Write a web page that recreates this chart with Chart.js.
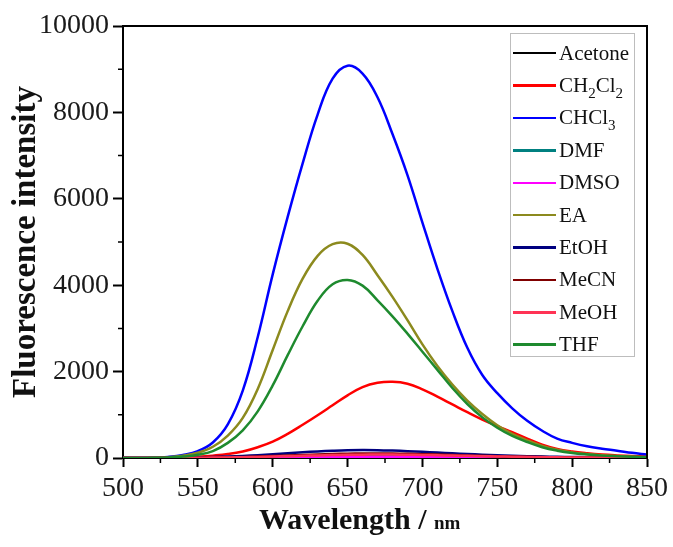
<!DOCTYPE html>
<html>
<head>
<meta charset="utf-8">
<title>Fluorescence spectra in solvents</title>
<script src="https://cdn.jsdelivr.net/npm/chart.js@4/dist/chart.umd.min.js"></script>
<style>
  html, body { margin: 0; padding: 0; background: #fff; }
  #wrap { position: relative; width: 673px; height: 547px; }
  #legend {
    position: absolute; left: 510px; top: 33px; width: 125px; height: 324px;
    box-sizing: border-box; border: 1px solid #bdbdbd; padding-top: 3px;
    font-family: "Liberation Serif", serif; font-size: 21px; color: #111;
  }
  .item { display: flex; align-items: center; height: 32.4px; white-space: nowrap; }
  .swatch { width: 43px; height: 2.5px; margin-left: 2px; margin-right: 3px; flex: none; }
  .item sub { font-size: 15px; vertical-align: -6px; line-height: 0; }
  #xtitle {
    position: absolute; left: 259px; top: 502px;
    font-family: "Liberation Serif", serif; font-weight: bold; font-size: 30px; color: #111;
    white-space: nowrap;
  }
  #xtitle small { font-size: 19px; }
</style>
</head>
<body>
<div id="wrap">
  <canvas id="spectra" width="673" height="547"></canvas>
  <div id="legend"></div>
  <div id="xtitle">Wavelength / <small>nm</small></div>
</div>
<script>
// emission wavelength, nm
const wavelengths = [500, 510, 520, 530, 540, 550, 560, 570, 580, 590, 600, 610, 620, 630, 640, 650, 660, 670,
    680, 690, 700, 710, 720, 730, 740, 750, 760, 770, 780, 790, 800, 810, 820, 830, 840, 850]

const solvents = ["Acetone", "CH2Cl2", "CHCl3", "DMF", "DMSO", "EA", "EtOH", "MeCN", "MeOH", "THF"]
const solventColors = ["#000000", "#ff0000", "#0000ff", "#008080", "#ff00ff", "#8c8a1e", "#000080", "#800000", "#ff3355", "#1e8a2e"]

const acetone = [0, 0, 0, 2, 4, 6, 9, 13, 18, 24, 30, 36, 41, 45, 48, 50, 50, 48, 45, 41, 37, 32, 27, 23, 19, 15, 12, 10, 8, 6, 5, 4, 3, 2, 2, 1]
const ch2cl2 = [0, 0, 0, 5, 15, 30, 55, 90, 150, 250, 380, 560, 770, 990, 1220, 1450, 1640, 1740, 1765, 1720, 1590, 1420,
    1240, 1060, 890, 740, 600, 450, 310, 210, 150, 110, 80, 60, 45, 35]
const chcl3 = [0, 0, 5, 25, 70, 160, 360, 780, 1560, 2800, 4250, 5580, 6820, 7950, 8780, 9080, 8900, 8350, 7500, 6550,
    5450, 4380, 3400, 2550, 1920, 1500, 1150, 860, 630, 450, 350, 270, 215, 170, 120, 80]
const dmf = [0, 0, 0, 1, 2, 3, 5, 7, 10, 13, 17, 21, 25, 29, 33, 36, 38, 40, 39, 37, 34, 31, 27, 23, 20, 17, 14, 11, 9, 7, 6, 5, 4, 3, 3, 2]
const dmso = [0, 0, 0, 1, 1, 2, 3, 5, 7, 9, 12, 15, 18, 21, 24, 26, 28, 29, 29, 28, 26, 23, 20, 17, 15, 12, 10, 8, 7, 5, 4, 4, 3, 2, 2, 2]
const ea = [0, 0, 5, 20, 55, 120, 260, 520, 930, 1600, 2500, 3400, 4150, 4680, 4950, 4960, 4700, 4230, 3730, 3190, 2630,
    2130, 1700, 1330, 1020, 760, 560, 410, 280, 190, 130, 90, 65, 45, 30, 20]
const etoh = [0, 0, 2, 4, 8, 14, 22, 33, 48, 66, 88, 110, 132, 152, 168, 180, 185, 182, 172, 158, 142, 125, 108, 92, 77,
    63, 52, 42, 34, 28, 23, 19, 16, 13, 11, 9]
const mecn = [0, 0, 1, 3, 5, 8, 12, 18, 26, 35, 46, 58, 70, 82, 92, 100, 105, 106, 103, 97, 89, 79, 69, 59, 50, 41, 34, 28, 22, 18, 15, 12, 10, 8, 7, 6]
const meoh = [0, 0, 1, 2, 4, 6, 9, 13, 19, 26, 34, 43, 52, 60, 67, 73, 77, 80, 79, 76, 71, 64, 57, 50, 43, 36, 30, 25, 20, 16, 13, 11, 9, 7, 6, 5]
const thf = [0, 0, 3, 10, 32, 75, 160, 350, 640, 1080, 1680, 2380, 3050, 3640, 4020, 4120, 3990, 3650, 3280, 2880, 2460,
    2040, 1620, 1250, 940, 700, 510, 370, 250, 170, 115, 80, 55, 40, 28, 20]

const seriesValues = [acetone, ch2cl2, chcl3, dmf, dmso, ea, etoh, mecn, meoh, thf]

const xMin = 500, xMax = 850, xMajor = 50, xMinor = 25
const yMin = 0, yMax = 10000, yMajor = 2000, yMinor = 1000

const serif = "'Liberation Serif', 'Times New Roman', serif"

// top/right frame + short minor ticks (Chart.js has no minor ticks)
const frameAndMinorTicks = {
    id: "frameAndMinorTicks",
    afterDraw(chart) {
        const { ctx, chartArea, scales } = chart
        ctx.save()
        ctx.strokeStyle = "#000"
        ctx.lineWidth = 2
        ctx.beginPath()
        ctx.moveTo(chartArea.left, chartArea.top)
        ctx.lineTo(chartArea.right, chartArea.top)
        ctx.lineTo(chartArea.right, chartArea.bottom)
        ctx.stroke()

        ctx.lineWidth = 1.5
        ctx.beginPath()
        for (let v = xMin + xMinor; v < xMax; v += xMajor) {
            const px = scales.x.getPixelForValue(v)
            ctx.moveTo(px, chartArea.bottom)
            ctx.lineTo(px, chartArea.bottom + 5)
        }
        for (let v = yMin + yMinor; v < yMax; v += yMajor) {
            const py = scales.y.getPixelForValue(v)
            ctx.moveTo(chartArea.left, py)
            ctx.lineTo(chartArea.left - 5, py)
        }
        ctx.stroke()
        ctx.restore()
    },
}

const chart = new Chart(document.getElementById("spectra"), {
    type: "line",
    data: {
        datasets: solvents.map((name, i) => ({
            label: name,
            data: wavelengths.map((w, j) => ({ x: w, y: seriesValues[i][j] })),
            borderColor: solventColors[i],
            backgroundColor: solventColors[i],
            borderWidth: 2.5,
            pointRadius: 0,
            tension: 0.4,
            order: solvents.length - i,
        })),
    },
    options: {
        responsive: false,
        animation: false,
        layout: { padding: { top: 26, right: 26, left: 0, bottom: 0 } },
        plugins: { legend: { display: false }, tooltip: { enabled: false } },
        scales: {
            x: {
                type: "linear",
                min: xMin,
                max: xMax,
                ticks: {
                    stepSize: xMajor,
                    maxRotation: 0,
                    autoSkip: false,
                    padding: 5,
                    color: "#1a1a1a",
                    font: { family: serif, size: 28 },
                    callback: (v) => String(v),
                },
                grid: { drawOnChartArea: false, tickLength: 9, tickColor: "#000", tickWidth: 2 },
                border: { display: true, color: "#000", width: 2 },
                afterFit(scale) {
                    scale.height = 89
                    scale.paddingLeft = 0
                    scale.paddingRight = 0
                },
            },
            y: {
                min: yMin,
                max: yMax,
                ticks: {
                    stepSize: yMajor,
                    padding: 4,
                    color: "#1a1a1a",
                    font: { family: serif, size: 28 },
                    callback: (v) => String(v),
                },
                grid: { drawOnChartArea: false, tickLength: 10, tickColor: "#000", tickWidth: 2 },
                border: { display: true, color: "#000", width: 2 },
                title: {
                    display: true,
                    text: "Fluorescence intensity",
                    color: "#111",
                    font: { family: serif, size: 33, weight: "bold" },
                    padding: { top: 7, bottom: 0 },
                },
                afterFit(scale) {
                    scale.width = 123
                    scale.paddingTop = 0
                    scale.paddingBottom = 0
                },
            },
        },
    },
    plugins: [frameAndMinorTicks],
})

// legend box drawn in HTML so the chemical formulas get real subscripts
const legendBox = document.getElementById("legend")
for (const ds of chart.data.datasets) {
    const item = document.createElement("div")
    item.className = "item"
    const swatch = document.createElement("span")
    swatch.className = "swatch"
    swatch.style.background = ds.borderColor
    const label = document.createElement("span")
    label.innerHTML = ds.label.replace(/(\d)/g, "<sub>$1</sub>")
    item.appendChild(swatch)
    item.appendChild(label)
    legendBox.appendChild(item)
}
</script>
</body>
</html>
